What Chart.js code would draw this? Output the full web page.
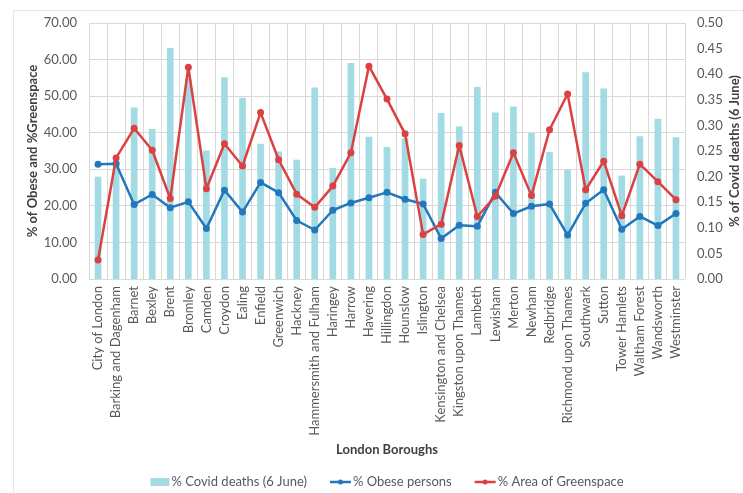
<!DOCTYPE html>
<html>
<head>
<meta charset="utf-8">
<script src="https://cdn.jsdelivr.net/npm/chart.js@4.4.1/dist/chart.umd.min.js"></script>
<style>
  html, body { margin: 0; padding: 0; background: #ffffff; }
  #wrap { width: 743px; height: 493px; position: relative; }
</style>
</head>
<body>
<div id="wrap"><canvas id="chart" width="743" height="493"></canvas></div>
<script>
// London boroughs
const boroughs = [
  "City of London", "Barking and Dagenham", "Barnet", "Bexley", "Brent", "Bromley",
  "Camden", "Croydon", "Ealing", "Enfield", "Greenwich", "Hackney",
  "Hammersmith and Fulham", "Haringey", "Harrow", "Havering", "Hillingdon", "Hounslow",
  "Islington", "Kensington and Chelsea", "Kingston upon Thames", "Lambeth", "Lewisham",
  "Merton", "Newham", "Redbridge", "Richmond upon Thames", "Southwark", "Sutton",
  "Tower Hamlets", "Waltham Forest", "Wandsworth", "Westminster"
];

// % Covid deaths (6 June) - right axis
const covidDeaths = [
  0.200, 0.230, 0.335, 0.293, 0.451, 0.390, 0.251, 0.394, 0.354, 0.264, 0.249, 0.233,
  0.374, 0.217, 0.422, 0.278, 0.258, 0.275, 0.196, 0.324, 0.298, 0.375, 0.325,
  0.337, 0.285, 0.248, 0.213, 0.404, 0.372, 0.202, 0.279, 0.313, 0.277
];

// % Obese persons - left axis
const obesePersons = [
  31.4, 31.5, 20.4, 23.1, 19.5, 21.1, 13.8, 24.3, 18.3, 26.4, 23.6, 16.0,
  13.4, 18.8, 20.8, 22.2, 23.7, 21.8, 20.5, 11.1, 14.7, 14.4, 23.7,
  17.9, 19.9, 20.5, 12.0, 20.7, 24.4, 13.6, 17.1, 14.6, 17.9
];

// % Area of Greenspace - left axis
const greenspace = [
  5.2, 33.1, 41.2, 35.2, 22.0, 57.9, 24.7, 37.0, 30.9, 45.5, 32.6, 23.2,
  19.6, 25.4, 34.5, 58.2, 49.2, 39.7, 12.2, 15.0, 36.5, 17.1, 22.6,
  34.5, 22.8, 40.8, 50.6, 24.4, 32.2, 17.3, 31.4, 26.6, 21.7
];

const rightAxisTitle = "% of Covid deaths (6 June)";

const FONT = "Lato, 'Open Sans', 'Liberation Sans', sans-serif";
const TICK_COLOR = "#595959";
const TITLE_COLOR = "#404040";
const GRID_COLOR = "#d9d9d9";
const BAR_COLOR = "#a3dbe5";
const BLUE = "#2377bb";
const RED = "#dc4141";

// light frame around the whole chart
const framePlugin = {
  id: "frame",
  beforeDraw(chart) {
    const ctx = chart.ctx;
    ctx.save();
    ctx.fillStyle = "#ffffff";
    ctx.fillRect(0, 0, chart.width, chart.height);
    ctx.strokeStyle = "#e6e6e6";
    ctx.lineWidth = 1;
    ctx.strokeRect(13.5, 10.5, chart.width + 20, chart.height + 20);
    ctx.restore();
  }
};

// right axis title, reading bottom to top like the left one
const rightTitlePlugin = {
  id: "rightTitle",
  afterDraw(chart) {
    const ctx = chart.ctx;
    const area = chart.chartArea;
    ctx.save();
    ctx.translate(735, (area.top + area.bottom) / 2);
    ctx.rotate(-Math.PI / 2);
    ctx.font = "bold 13px " + FONT;
    ctx.fillStyle = TITLE_COLOR;
    ctx.textAlign = "center";
    ctx.textBaseline = "middle";
    ctx.fillText(rightAxisTitle, 0, 0);
    ctx.restore();
  }
};

// legend with a bar swatch and line+marker swatches
const legendPlugin = {
  id: "customLegend",
  afterDraw(chart) {
    const ctx = chart.ctx;
    const y = 482;
    ctx.save();
    ctx.font = "13px " + FONT;
    ctx.textBaseline = "middle";
    const items = chart.data.datasets.map(ds => ({
      text: ds.label, type: ds.type, color: ds.type === "bar" ? ds.backgroundColor : ds.borderColor
    }));
    const swatchW = [19, 21, 21];
    const gap = 2, itemGap = 23;
    let total = 0;
    items.forEach((it, i) => {
      it.w = ctx.measureText(it.text).width;
      total += swatchW[i] + gap + it.w + (i < items.length - 1 ? itemGap : 0);
    });
    const area = chart.chartArea;
    let x = (area.left + area.right) / 2 - total / 2;
    items.forEach((it, i) => {
      const sw = swatchW[i];
      if (it.type === "bar") {
        ctx.fillStyle = it.color;
        ctx.fillRect(x, y - 4, sw, 8);
      } else {
        ctx.strokeStyle = it.color;
        ctx.lineWidth = 2.5;
        ctx.beginPath();
        ctx.moveTo(x, y);
        ctx.lineTo(x + sw, y);
        ctx.stroke();
        ctx.fillStyle = it.color;
        ctx.beginPath();
        ctx.arc(x + sw / 2, y, 2.5, 0, Math.PI * 2);
        ctx.fill();
      }
      x += sw + gap;
      ctx.fillStyle = TICK_COLOR;
      ctx.textAlign = "left";
      ctx.fillText(it.text, x, y);
      x += it.w + itemGap;
    });
    ctx.restore();
  }
};

new Chart(document.getElementById("chart"), {
  data: {
    labels: boroughs,
    datasets: [
      {
        type: "bar",
        label: "% Covid deaths (6 June)",
        data: covidDeaths,
        yAxisID: "yRight",
        backgroundColor: BAR_COLOR,
        borderWidth: 0,
        barPercentage: 0.37,
        categoryPercentage: 1.0,
        order: 3
      },
      {
        type: "line",
        label: "% Obese persons",
        data: obesePersons,
        yAxisID: "yLeft",
        borderColor: BLUE,
        backgroundColor: BLUE,
        borderWidth: 2.5,
        borderJoinStyle: "round",
        pointRadius: 3.5,
        pointBackgroundColor: BLUE,
        pointBorderWidth: 0,
        tension: 0,
        order: 2
      },
      {
        type: "line",
        label: "% Area of Greenspace",
        data: greenspace,
        yAxisID: "yLeft",
        borderColor: RED,
        backgroundColor: RED,
        borderWidth: 2.5,
        borderJoinStyle: "round",
        pointRadius: 3.5,
        pointBackgroundColor: RED,
        pointBorderWidth: 0,
        tension: 0,
        order: 1
      }
    ]
  },
  options: {
    responsive: false,
    animation: false,
    devicePixelRatio: 1,
    layout: { padding: { top: 23, left: 0, right: 0, bottom: 0 } },
    plugins: {
      legend: { display: false },
      tooltip: { enabled: false }
    },
    scales: {
      x: {
        offset: true,
        grid: { color: GRID_COLOR, drawTicks: false, offset: true },
        border: { display: false },
        ticks: {
          autoSkip: false,
          maxRotation: 90,
          minRotation: 90,
          padding: 7,
          color: TICK_COLOR,
          font: { family: FONT, size: 13 }
        },
        title: {
          display: true,
          text: "London Boroughs",
          color: TITLE_COLOR,
          font: { family: FONT, size: 13, weight: "bold" },
          padding: { top: 0, bottom: 35 }
        },
        afterFit(scale) { scale.height = 214; }
      },
      yLeft: {
        position: "left",
        min: 0,
        max: 70,
        grid: { color: GRID_COLOR, drawTicks: false },
        border: { display: false },
        ticks: {
          stepSize: 10,
          padding: 12,
          color: TICK_COLOR,
          font: { family: FONT, size: 13 },
          callback: v => Number(v).toFixed(2)
        },
        title: {
          display: true,
          text: "% of Obese and %Greenspace",
          color: TITLE_COLOR,
          font: { family: FONT, size: 13, weight: "bold" },
          padding: { top: 25, bottom: 0 }
        },
        afterFit(scale) { scale.width = 89; }
      },
      yRight: {
        position: "right",
        min: 0,
        max: 0.5,
        grid: { display: false, drawTicks: false },
        border: { display: false },
        ticks: {
          stepSize: 0.05,
          padding: 12,
          color: TICK_COLOR,
          font: { family: FONT, size: 13 },
          callback: v => Number(v).toFixed(2)
        },
        title: { display: false },
        afterFit(scale) { scale.width = 58; }
      }
    }
  },
  plugins: [framePlugin, rightTitlePlugin, legendPlugin]
});
</script>
</body>
</html>
